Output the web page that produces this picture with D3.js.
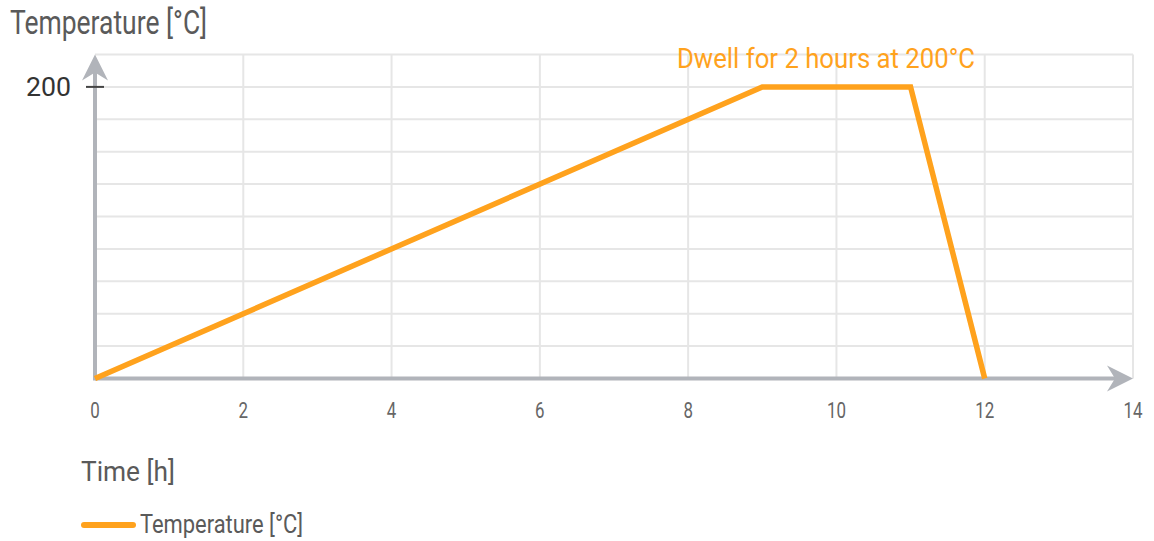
<!DOCTYPE html>
<html>
<head>
<meta charset="utf-8">
<script src="https://cdn.jsdelivr.net/npm/d3@7/dist/d3.min.js"></script>
<style>
  html, body { margin: 0; padding: 0; background: #fff; }
  svg { display: block; }
  text { font-family: "Roboto", "DejaVu Sans", sans-serif; }
</style>
</head>
<body>
<div id="chart"></div>
<script>
// ---- data ----
const timeHours = [0, 9, 11, 12];
const temperatures = [0, 200, 200, 0];
const xTickValues = [0, 2, 4, 6, 8, 10, 12, 14];
const yTickLabels = [200];
const seriesName = "Temperature [°C]";
const yTitle = "Temperature [°C]";
const xTitle = "Time [h]";
const annotation = "Dwell for 2 hours at 200°C";

const W = 1154, H = 541;
const orange = "#FFA21D";
const axisGrey = "#B1B4BA";
const gridGrey = "#E6E6E6";
const textGrey = "#5A5A5A";

const svg = d3.select("#chart").append("svg").attr("width", W).attr("height", H);

const x = d3.scaleLinear().domain([0, 14]).range([95, 1133]);
const yMax = 2000 / 9;
const y = d3.scaleLinear().domain([0, yMax]).range([378.5, 54.5]);
const yGrid = d3.range(1, 11).map(i => i * yMax / 10);

// grid
const g = svg.append("g");
g.selectAll("line.hg").data(yGrid).join("line")
  .attr("x1", x(0)).attr("x2", x(14))
  .attr("y1", d => y(d)).attr("y2", d => y(d))
  .attr("stroke", gridGrey).attr("stroke-width", 2);
g.selectAll("line.vg").data(xTickValues.filter(d => d > 0)).join("line")
  .attr("x1", d => x(d)).attr("x2", d => x(d))
  .attr("y1", y(yMax)).attr("y2", y(0))
  .attr("stroke", gridGrey).attr("stroke-width", 2);

// axes lines
svg.append("line").attr("x1", x(0)).attr("x2", x(14) - 16)
  .attr("y1", y(0)).attr("y2", y(0))
  .attr("stroke", axisGrey).attr("stroke-width", 4);
svg.append("line").attr("x1", x(0)).attr("x2", x(0))
  .attr("y1", y(0) + 2).attr("y2", y(yMax) + 16)
  .attr("stroke", axisGrey).attr("stroke-width", 4);

// arrowheads
const xt = x(14), yt = y(0);
svg.append("path")
  .attr("d", `M${xt},${yt} L${xt - 26},${yt - 13} L${xt - 18},${yt} L${xt - 26},${yt + 13} Z`)
  .attr("fill", axisGrey);
const ax = x(0), ay = y(yMax);
svg.append("path")
  .attr("d", `M${ax},${ay} L${ax - 13},${ay + 26} L${ax},${ay + 18} L${ax + 13},${ay + 26} Z`)
  .attr("fill", axisGrey);

// y tick
svg.selectAll("line.yt").data(yTickLabels).join("line")
  .attr("x1", x(0) - 9).attr("x2", x(0) + 9)
  .attr("y1", d => y(d)).attr("y2", d => y(d))
  .attr("stroke", "#444").attr("stroke-width", 2);
svg.selectAll("text.ytl").data(yTickLabels).join("text")
  .attr("x", 26).attr("y", d => y(d) + 9.5)
  .attr("font-size", 25).attr("fill", "#333")
  .attr("textLength", d => String(d).length * 15).attr("lengthAdjust", "spacingAndGlyphs")
  .text(d => d);

// x tick labels
svg.selectAll("text.xtl").data(xTickValues).join("text")
  .attr("x", d => x(d)).attr("y", 418)
  .attr("text-anchor", "middle")
  .attr("font-size", 22).attr("fill", "#666")
  .attr("textLength", d => String(d).length * 9.5).attr("lengthAdjust", "spacingAndGlyphs")
  .text(d => d);

// line
const line = d3.line().x((d, i) => x(timeHours[i])).y(d => y(d));
svg.append("path").datum(temperatures)
  .attr("d", line)
  .attr("fill", "none").attr("stroke", orange).attr("stroke-width", 5.5)
  .attr("stroke-linejoin", "miter");

// titles
svg.append("text").attr("x", 10).attr("y", 34).attr("font-size", 34)
  .attr("fill", textGrey)
  .attr("textLength", 197).attr("lengthAdjust", "spacingAndGlyphs")
  .text(yTitle);
svg.append("text").attr("x", 81).attr("y", 481).attr("font-size", 28)
  .attr("fill", textGrey)
  .attr("textLength", 94).attr("lengthAdjust", "spacingAndGlyphs")
  .text(xTitle);

// annotation
svg.append("text").attr("x", 677).attr("y", 68)
  .attr("font-size", 28).attr("fill", orange)
  .attr("textLength", 298).attr("lengthAdjust", "spacingAndGlyphs")
  .text(annotation);

// legend
svg.append("line").attr("x1", 84).attr("x2", 133).attr("y1", 525).attr("y2", 525)
  .attr("stroke", orange).attr("stroke-width", 6).attr("stroke-linecap", "round");
svg.append("text").attr("x", 140).attr("y", 533).attr("font-size", 25)
  .attr("fill", textGrey)
  .attr("textLength", 163).attr("lengthAdjust", "spacingAndGlyphs")
  .text(seriesName);
</script>
</body>
</html>
